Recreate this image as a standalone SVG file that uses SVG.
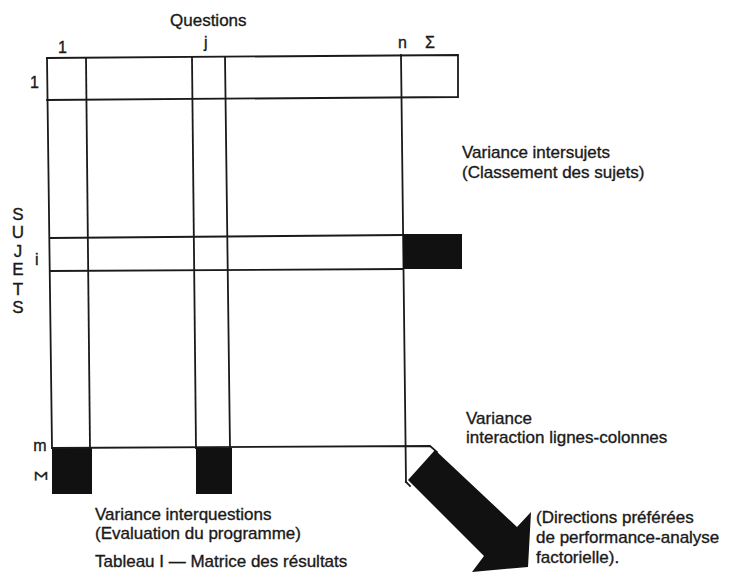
<svg xmlns="http://www.w3.org/2000/svg" width="732" height="573" viewBox="0 0 732 573">
<style>
.ln{stroke:#1a1a1a;stroke-width:1.8;fill:none;stroke-linecap:square}
.blk{fill:#111;stroke:none}
text{font-family:"Liberation Sans",Arial,sans-serif;font-size:17px;fill:#1a1a1a;stroke:#1a1a1a;stroke-width:0.35}
.sm{font-size:16px}
</style>
<rect width="732" height="573" fill="#fff"/>
<g id="matrix">
<polyline class="ln" points="47,58 458,55 458,97 47,100"/>
<line class="ln" x1="47" y1="58" x2="52" y2="448"/>
<line class="ln" x1="86" y1="58" x2="90" y2="448"/>
<line class="ln" x1="192" y1="58" x2="196" y2="448"/>
<line class="ln" x1="225" y1="57" x2="230" y2="448"/>
<line class="ln" x1="401" y1="55" x2="406" y2="482"/>
<line class="ln" x1="50" y1="238" x2="403" y2="235"/>
<line class="ln" x1="50" y1="271" x2="403" y2="269"/>
</g>
<g id="cell-row-i-sum"><rect class="blk" x="403" y="234" width="59" height="35"/></g>
<g id="cell-sum-col-1"><rect class="blk" x="52" y="448" width="40" height="46"/></g>
<g id="cell-sum-col-j"><rect class="blk" x="196" y="448" width="36" height="46"/></g>
<g id="labels">
<text x="170" y="26">Questions</text>
<text x="58" y="53" class="sm">1</text>
<text x="204" y="48" class="sm">j</text>
<text x="398" y="48" class="sm">n</text>
<text x="425" y="48" class="sm">Σ</text>
<text x="30" y="88" class="sm">1</text>
<text x="35" y="265" class="sm">i</text>
<text x="40" y="451" class="sm" text-anchor="middle">m</text>
<text x="40" y="476" class="sm" text-anchor="middle" dominant-baseline="central" transform="rotate(90 40 476)">Σ</text>
<g text-anchor="middle">
<text x="18" y="220">S</text>
<text x="18" y="238">U</text>
<text x="18" y="257">J</text>
<text x="18" y="275">E</text>
<text x="18" y="295">T</text>
<text x="18" y="313">S</text>
</g>
<text x="462" y="158">Variance intersujets</text>
<text x="462" y="178">(Classement des sujets)</text>
<text x="466" y="424">Variance</text>
<text x="466" y="443">interaction lignes-colonnes</text>
<text x="95" y="520">Variance interquestions</text>
<text x="95" y="539">(Evaluation du programme)</text>
<text x="95" y="567">Tableau I — Matrice des résultats</text>
<text x="536" y="523">(Directions préférées</text>
<text x="536" y="543">de performance-analyse</text>
<text x="536" y="563">factorielle).</text>
</g>
<g id="connectors">
<polyline class="ln" points="52,448 430,446 437,452"/>
<polyline class="ln" points="406,482 410,486"/>
<polygon class="blk" points="435,450 517,527 531,512 528,567 472,572 484,556 408,480"/>
</g>
</svg>
